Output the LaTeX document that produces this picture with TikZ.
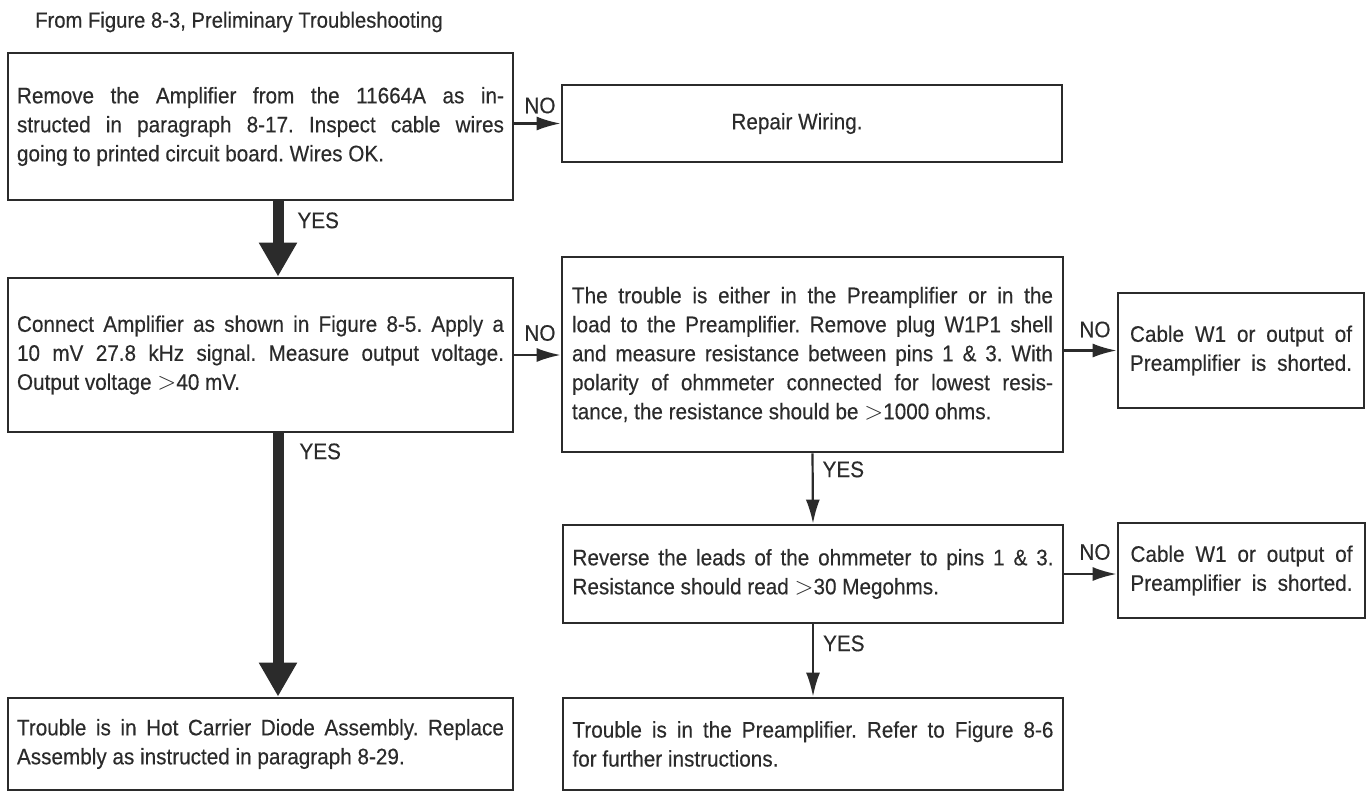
\documentclass[tikz,border=0pt]{standalone}
\usepackage{fontspec}
\setmainfont{Liberation Sans}[FakeStretch=0.92,FakeBold=0.3]
\usepackage{tikz}
\usetikzlibrary{arrows.meta}
\definecolor{ink}{HTML}{2B2B2B}
\newcommand*{\yesoff}{17.5pt}
\newcommand*{\gtsign}{{\fontsize{27}{29}\selectfont$>$}}
\tolerance=9999
\hbadness=10000
\frenchspacing

\begin{document}
\begin{tikzpicture}[x=1pt,y=-1pt,font=\fontsize{22.5}{29}\selectfont,text=ink]
\tikzset{flowbox/.style={draw=ink,line width=2.8pt,rectangle,inner sep=0pt,align=justify},
  fullwidth/.style={execute at begin node={\parfillskip=0pt\relax}},
  bigarrow/.style={draw=ink,line width=11pt,-{Triangle[length=34pt,width=36pt]}},
  thinarrow/.style={draw=ink,line width=2.2pt,-{Latex[length=24pt,width=14pt]}},
  answer/.style={inner sep=1pt,text=ink}}

    \useasboundingbox[fill=white] (0,0) rectangle (1372,793);
    \node[anchor=west,inner sep=0pt,font=\fontsize{22}{29}\selectfont] (title) at (35,22) {From Figure 8-3, Preliminary Troubleshooting};

    % left column
    \node[flowbox,minimum width=505,minimum height=147,text width=487pt] (remove) at (260.5,126.5)
      {Remove the Amplifier from the 11664A as in-\linebreak structed in paragraph 8-17. Inspect cable wires\linebreak going to printed circuit board. Wires OK.};
    \node[flowbox,minimum width=505,minimum height=154,text width=487pt] (connect) at (260.5,355)
      {Connect Amplifier as shown in Figure 8-5. Apply a\linebreak 10 mV 27.8 kHz signal. Measure output voltage.\linebreak Output voltage \gtsign40 mV.};
    \node[flowbox,minimum width=505,minimum height=92,text width=487pt] (hotdiode) at (260.5,744)
      {Trouble is in Hot Carrier Diode Assembly. Replace\linebreak Assembly as instructed in paragraph 8-29.};

    % middle column
    \node[flowbox,minimum width=500,minimum height=77,align=center] (repair) at (812,123.5) {Repair Wiring.\hspace*{30pt}};
    \node[flowbox,minimum width=501,minimum height=195,text width=481pt] (either) at (812.5,354.5)
      {The trouble is either in the Preamplifier or in the\linebreak load to the Preamplifier. Remove plug W1P1 shell\linebreak and measure resistance between pins 1 \& 3. With\linebreak polarity of ohmmeter connected for lowest resis-\linebreak tance, the resistance should be \gtsign1000 ohms.};
    \node[flowbox,minimum width=500,minimum height=98,text width=481pt] (reverse) at (813,574)
      {Reverse the leads of the ohmmeter to pins 1 \& 3.\linebreak Resistance should read \gtsign30 Megohms.};
    \node[flowbox,minimum width=500,minimum height=92,text width=481pt] (preamp) at (813,744)
      {Trouble is in the Preamplifier. Refer to Figure 8-6\linebreak for further instructions.};

    % right column
    \node[flowbox,fullwidth,minimum width=246,minimum height=115,text width=222pt] (shortA) at (1241,350.5)
      {Cable W1 or output of\linebreak Preamplifier is shorted.};
    \node[flowbox,fullwidth,minimum width=247,minimum height=95,text width=222pt] (shortB) at (1241.5,570.5)
      {Cable W1 or output of\linebreak Preamplifier is shorted.};

    % YES branches
    \draw[bigarrow] ([xshift=\yesoff]remove.south) -- ([xshift=\yesoff]connect.north)
      node[answer,at start,anchor=west,xshift=13pt,yshift=-19pt] {YES};
    \draw[bigarrow] ([xshift=\yesoff]connect.south) -- ([xshift=\yesoff]hotdiode.north)
      node[answer,at start,anchor=west,xshift=15pt,yshift=-18pt] {YES};
    \draw[thinarrow] (either.south) -- (reverse.north)
      node[answer,at start,anchor=west,xshift=8pt,yshift=-16pt] {YES};
    \draw[thinarrow] (reverse.south) -- (preamp.north)
      node[answer,at start,anchor=west,xshift=8pt,yshift=-19pt] {YES};

    % NO branches
    \draw[thinarrow] (remove.east |- repair.west) -- (repair.west)
      node[answer,at end,anchor=east,xshift=-3pt,yshift=18pt] {NO};
    \draw[thinarrow] (connect.east) -- (either.west |- connect.east)
      node[answer,at end,anchor=east,xshift=-3pt,yshift=22pt] {NO};
    \draw[thinarrow] (either.east |- shortA.west) -- (shortA.west)
      node[answer,at end,anchor=east,xshift=-4pt,yshift=21pt] {NO};
    \draw[thinarrow] (reverse.east) -- (shortB.west |- reverse.east)
      node[answer,at end,anchor=east,xshift=-4pt,yshift=22pt] {NO};
\end{tikzpicture}
\end{document}
